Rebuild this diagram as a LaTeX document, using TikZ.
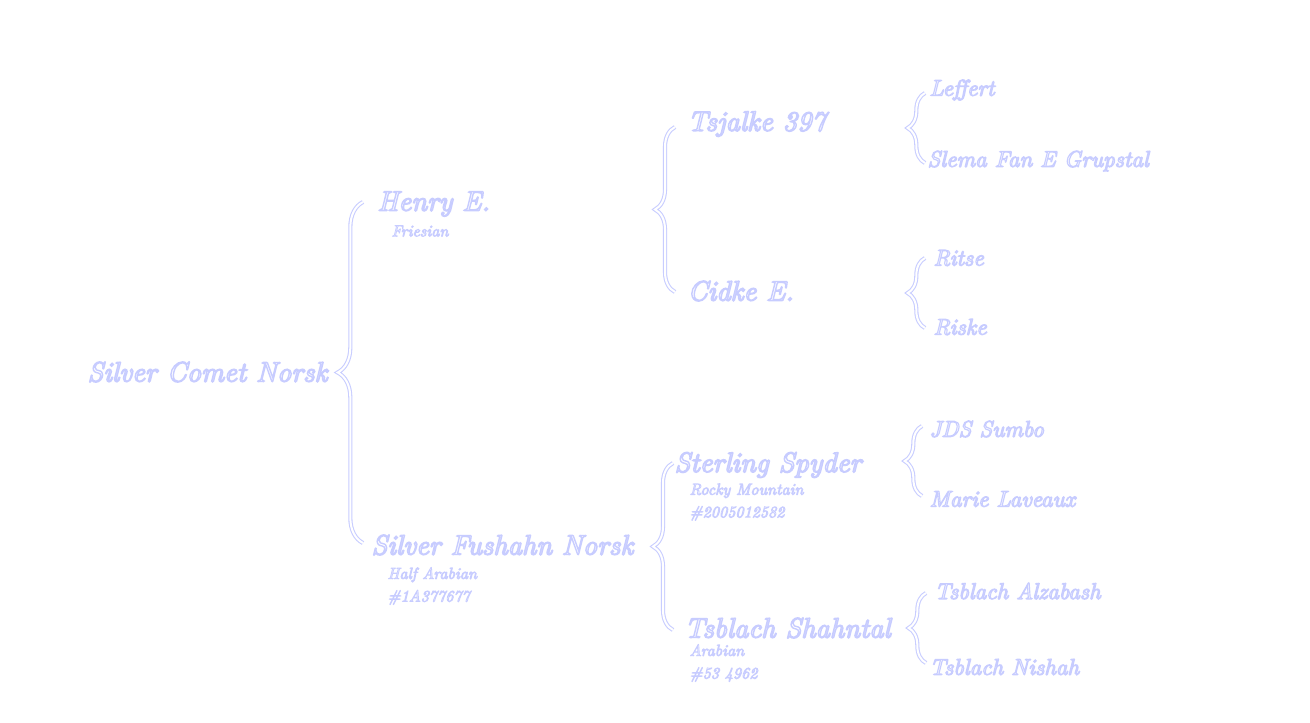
\documentclass[tikz,border=0pt]{standalone}
\usepackage{fontspec}
\usepackage{xcolor}
\usepackage{tikz}
\usetikzlibrary{positioning,calc,decorations.pathreplacing}

\newfontfamily\horsefont{lmroman10-italic}[Extension=.otf, FakeBold=5]
\definecolor{glow}{RGB}{200,205,255}
% white fill, blue outline
\newcommand{\glowtext}[1]{\color{white}\special{pdf:literal direct 0.78 0.8 1 RG}#1}

\tikzset{
  horse/.style={anchor=west, inner sep=1pt, font=\horsefont\fontsize{21}{24}\selectfont},
  grand/.style={anchor=west, inner sep=1pt, font=\horsefont\fontsize{17}{20}\selectfont},
  breed/.style={anchor=west, inner sep=1pt, align=left, font=\horsefont\fontsize{12}{17}\selectfont},
  pedbrace/.style={decorate, decoration={brace, amplitude=#1}, draw=glow,
    line width=0.8pt, double=white, double distance=1.5pt},
  pedbrace/.default=13pt
}

\begin{document}
\begin{tikzpicture}[x=0.75pt, y=-0.75pt]
\useasboundingbox (0,0) rectangle (1310,722);
\fill[white] (0,0) rectangle (1310,722);

% Foal
\node[horse] (comet) at (86,372) {\glowtext{Silver Comet Norsk}};

% Sire and dam
\node[horse] (henry) at (376,204) {\glowtext{Henry E.}};
\node[breed] (henrybreed) at (390,231) {\glowtext{Friesian}};
\node[horse] (fushahn) at (370,545) {\glowtext{Silver Fushahn Norsk}};
\node[breed] (fushahnbreed) at (386,586) {\glowtext{Half Arabian}\\\glowtext{\#1A377677}};

% Grandparents
\node[horse] (tsjalke) at (686,124) {\glowtext{Tsjalke 397}};
\node[horse] (cidke) at (686,291) {\glowtext{Cidke E.}};
\node[horse] (sterling) at (673,465) {\glowtext{Sterling Spyder}};
\node[breed] (sterlingbreed) at (688,502) {\glowtext{Rocky Mountain}\\\glowtext{\#2005012582}};
\node[horse] (shahntal) at (683,628) {\glowtext{Tsblach Shahntal}};
\node[breed] (shahntalbreed) at (688,663) {\glowtext{Arabian}\\\glowtext{\#53 4962}};

% Great-grandparents
\node[grand] (leffert) at (928,90) {\glowtext{Leffert}};
\node[grand] (slema) at (926,161) {\glowtext{Slema Fan E Grupstal}};
\node[grand] (ritse) at (932,258) {\glowtext{Ritse}};
\node[grand] (riske) at (932,327) {\glowtext{Riske}};
\node[grand] (sumbo) at (928,429) {\glowtext{JDS Sumbo}};
\node[grand] (laveaux) at (928,499) {\glowtext{Marie Laveaux}};
\node[grand] (alzabash) at (933,591) {\glowtext{Tsblach Alzabash}};
\node[grand] (nishah) at (928,667) {\glowtext{Tsblach Nishah}};

% Brace ends
\coordinate (cometT) at (363,202);
\coordinate (cometB) at (363,543);
\coordinate (henryT) at (675,127);
\coordinate (henryB) at (675,292);
\coordinate (fushahnT) at (673,463);
\coordinate (fushahnB) at (673,630);
\coordinate (tsjalkeT) at (925,93);
\coordinate (tsjalkeB) at (925,163);
\coordinate (cidkeT) at (925,258);
\coordinate (cidkeB) at (925,328);
\coordinate (sterlingT) at (922,426);
\coordinate (sterlingB) at (922,496);
\coordinate (shahntalT) at (926,593);
\coordinate (shahntalB) at (926,663);

% Braces
\draw[pedbrace=19pt] (cometB) -- (cometT);
\draw[pedbrace=15pt] (henryB) -- (henryT);
\draw[pedbrace=15pt] (fushahnB) -- (fushahnT);
\draw[pedbrace] (tsjalkeB) -- (tsjalkeT);
\draw[pedbrace] (cidkeB) -- (cidkeT);
\draw[pedbrace] (sterlingB) -- (sterlingT);
\draw[pedbrace] (shahntalB) -- (shahntalT);
\end{tikzpicture}
\end{document}
